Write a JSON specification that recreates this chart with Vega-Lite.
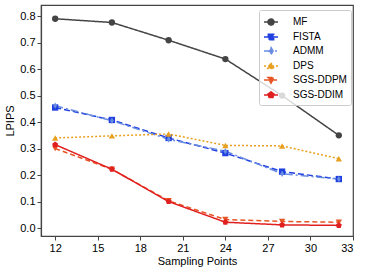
{
  "$schema": "https://vega.github.io/schema/vega-lite/v6.json",
  "width": 312,
  "height": 231,
  "autosize": {"type": "none"},
  "padding": {"left": 41, "top": 5, "right": 13, "bottom": 36},
  "config": {
    "font": "Liberation Sans",
    "view": {"stroke": "#444", "strokeWidth": 1.2},
    "axis": {"grid": false, "domainColor": "#444", "domainWidth": 1.2, "tickColor": "#444", "tickSize": 4, "labelFontSize": 11, "labelColor": "#000", "titleFontSize": 11, "titleFontWeight": "normal", "titleColor": "#000"}
  },
  "data": {"values": [
    {"m": "MF", "x": 12, "y": 0.79}, {"m": "MF", "x": 16, "y": 0.776}, {"m": "MF", "x": 20, "y": 0.709}, {"m": "MF", "x": 24, "y": 0.638}, {"m": "MF", "x": 28, "y": 0.5}, {"m": "MF", "x": 32, "y": 0.35},
    {"m": "FISTA", "x": 12, "y": 0.455}, {"m": "FISTA", "x": 16, "y": 0.408}, {"m": "FISTA", "x": 20, "y": 0.34}, {"m": "FISTA", "x": 24, "y": 0.283}, {"m": "FISTA", "x": 28, "y": 0.213}, {"m": "FISTA", "x": 32, "y": 0.185},
    {"m": "ADMM", "x": 12, "y": 0.462}, {"m": "ADMM", "x": 16, "y": 0.405}, {"m": "ADMM", "x": 20, "y": 0.335}, {"m": "ADMM", "x": 24, "y": 0.29}, {"m": "ADMM", "x": 28, "y": 0.205}, {"m": "ADMM", "x": 32, "y": 0.185},
    {"m": "DPS", "x": 12, "y": 0.34}, {"m": "DPS", "x": 16, "y": 0.348}, {"m": "DPS", "x": 20, "y": 0.355}, {"m": "DPS", "x": 24, "y": 0.312}, {"m": "DPS", "x": 28, "y": 0.31}, {"m": "DPS", "x": 32, "y": 0.262},
    {"m": "SGS-DDPM", "x": 12, "y": 0.30}, {"m": "SGS-DDPM", "x": 16, "y": 0.222}, {"m": "SGS-DDPM", "x": 20, "y": 0.103}, {"m": "SGS-DDPM", "x": 24, "y": 0.032}, {"m": "SGS-DDPM", "x": 28, "y": 0.025}, {"m": "SGS-DDPM", "x": 32, "y": 0.022},
    {"m": "SGS-DDIM", "x": 12, "y": 0.315}, {"m": "SGS-DDIM", "x": 16, "y": 0.222}, {"m": "SGS-DDIM", "x": 20, "y": 0.1}, {"m": "SGS-DDIM", "x": 24, "y": 0.022}, {"m": "SGS-DDIM", "x": 28, "y": 0.012}, {"m": "SGS-DDIM", "x": 32, "y": 0.01}
  ]},
  "encoding": {
    "x": {"field": "x", "type": "quantitative", "title": "Sampling Points", "scale": {"domain": [11, 33], "nice": false, "zero": false}, "axis": {"values": [12, 15, 18, 21, 24, 27, 30, 33], "titlePadding": 2}},
    "y": {"field": "y", "type": "quantitative", "title": "LPIPS", "scale": {"domain": [-0.03, 0.842], "nice": false, "zero": false}, "axis": {"values": [0, 0.1, 0.2, 0.3, 0.4, 0.5, 0.6, 0.7, 0.8], "format": ".1f", "titlePadding": 4}}
  },
  "layer": [
    {"mark": {"type": "line", "strokeWidth": 1.5},
     "encoding": {
       "color": {"field": "m", "type": "nominal", "title": null,
        "scale": {"domain": ["MF", "FISTA", "ADMM", "DPS", "SGS-DDPM", "SGS-DDIM"], "range": ["#444444", "#1f3fe0", "#6a8de0", "#e8a020", "#e85525", "#e02020"]},
        "legend": {"orient": "none", "legendX": 218, "legendY": 5, "fillColor": "rgba(255,255,255,0.8)", "strokeColor": "#ccc", "padding": 4, "cornerRadius": 2, "labelFontSize": 10, "rowPadding": -1, "symbolSize": 196, "labelOffset": 14,
         "encode": {"symbols": {"update": {
          "size": {"value": 196},
          "strokeWidth": {"value": 1.5},
          "opacity": {"value": 1},
          "fill": {"scale": "color", "field": "value"},
          "stroke": {"scale": "color", "field": "value"},
          "strokeDash": {"scale": "strokeDash", "field": "value"},
          "shape": {"signal": "datum.value === 'MF' ? 'M-1,0H1M0.43,0A0.43,0.43,0,1,1,-0.43,0A0.43,0.43,0,1,1,0.43,0Z' : datum.value === 'FISTA' ? 'M-1,0H1M-0.38,-0.38H0.38V0.38H-0.38Z' : datum.value === 'ADMM' ? 'M-1,0H1M0,-0.5L0.3,0L0,0.5L-0.3,0Z' : datum.value === 'DPS' ? 'M-1,0H1M0,-0.45L0.45,0.35L-0.45,0.35Z' : datum.value === 'SGS-DDPM' ? 'M-1,0H1M0,0.45L0.45,-0.35L-0.45,-0.35Z' : 'M-1,0H1M0,-0.45L0.428,-0.139L0.265,0.364L-0.265,0.364L-0.428,-0.139Z'"}
         }}}}},
       "strokeDash": {"field": "m", "type": "nominal", "title": null,
        "scale": {"domain": ["MF", "FISTA", "ADMM", "DPS", "SGS-DDPM", "SGS-DDIM"], "range": [[1, 0], [6, 3], [8, 3, 2, 3], [2, 2], [5, 3], [1, 0]]}}
     }},
    {"transform": [{"filter": "datum.m === 'MF'"}], "mark": {"type": "point", "filled": true, "opacity": 1, "size": 40, "shape": "circle"}, "encoding": {"color": {"field": "m", "type": "nominal", "legend": null}}},
    {"transform": [{"filter": "datum.m === 'FISTA'"}], "mark": {"type": "point", "filled": true, "opacity": 1, "size": 40, "shape": "square"}, "encoding": {"color": {"field": "m", "type": "nominal", "legend": null}}},
    {"transform": [{"filter": "datum.m === 'ADMM'"}], "mark": {"type": "point", "filled": true, "opacity": 1, "size": 40, "shape": "M0,-1L0.6,0L0,1L-0.6,0Z"}, "encoding": {"color": {"field": "m", "type": "nominal", "legend": null}}},
    {"transform": [{"filter": "datum.m === 'DPS'"}], "mark": {"type": "point", "filled": true, "opacity": 1, "size": 40, "shape": "triangle-up"}, "encoding": {"color": {"field": "m", "type": "nominal", "legend": null}}},
    {"transform": [{"filter": "datum.m === 'SGS-DDPM'"}], "mark": {"type": "point", "filled": true, "opacity": 1, "size": 40, "shape": "triangle-down"}, "encoding": {"color": {"field": "m", "type": "nominal", "legend": null}}},
    {"transform": [{"filter": "datum.m === 'SGS-DDIM'"}], "mark": {"type": "point", "filled": true, "opacity": 1, "size": 40, "shape": "M0,-1L0.951,-0.309L0.588,0.809L-0.588,0.809L-0.951,-0.309Z"}, "encoding": {"color": {"field": "m", "type": "nominal", "legend": null}}}
  ]
}
